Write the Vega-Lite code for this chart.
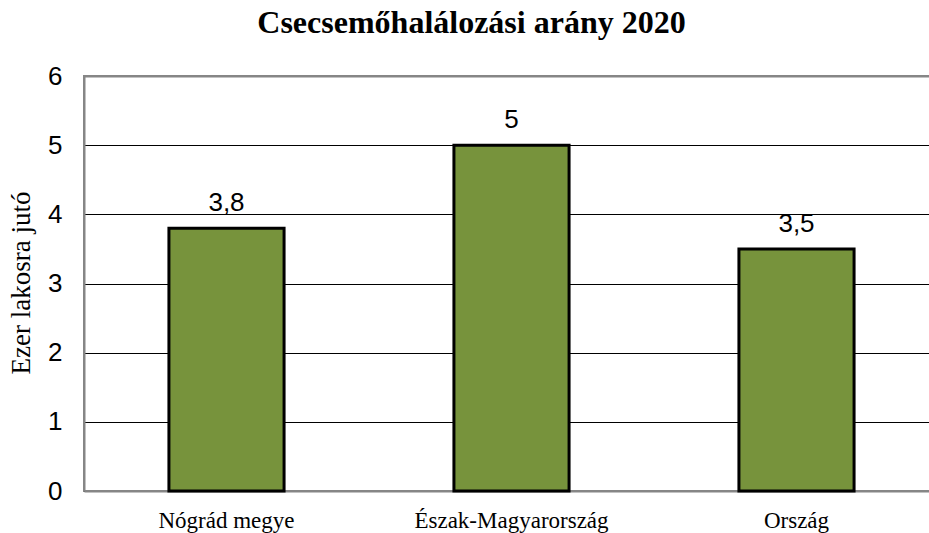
{
  "$schema": "https://vega.github.io/schema/vega-lite/v6.json",
  "autosize": "none",
  "width": 855,
  "height": 415,
  "padding": {"left": 84, "top": 76, "right": 0, "bottom": 42},
  "background": "white",
  "title": {
    "text": "Csecsemőhalálozási arány 2020",
    "font": "Liberation Serif",
    "fontSize": 32,
    "fontWeight": "bold",
    "color": "black",
    "anchor": "middle",
    "dx": -40,
    "baseline": "alphabetic",
    "offset": -2
  },
  "config": {
    "locale": {"number": {"decimal": ",", "thousands": " ", "grouping": [3], "currency": ["", " Ft"]}},
    "view": {"stroke": "#868686", "strokeWidth": 2}
  },
  "data": {
    "values": [
      {"terulet": "Nógrád megye", "ertek": 3.8},
      {"terulet": "Észak-Magyarország", "ertek": 5},
      {"terulet": "Ország", "ertek": 3.5}
    ]
  },
  "encoding": {
    "x": {
      "field": "terulet",
      "type": "nominal",
      "sort": null,
      "scale": {"paddingInner": 0.596, "paddingOuter": 0.298},
      "axis": {
        "title": null,
        "labelAngle": 0,
        "labelFont": "Liberation Serif",
        "labelFontSize": 23,
        "labelColor": "black",
        "labelBaseline": "alphabetic",
        "labelPadding": 36,
        "labelLimit": 0,
        "ticks": false,
        "domainColor": "#868686",
        "domainWidth": 2
      }
    },
    "y": {
      "field": "ertek",
      "type": "quantitative",
      "scale": {"domain": [0, 6], "nice": false},
      "axis": {
        "title": "Ezer lakosra jutó",
        "titleFont": "Liberation Serif",
        "titleFontSize": 27,
        "titleFontWeight": "normal",
        "titleColor": "black",
        "titleBaseline": "middle",
        "titleX": -63,
        "titleY": 206.5,
        "values": [0, 1, 2, 3, 4, 5, 6],
        "labelFont": "Liberation Sans",
        "labelFontSize": 26,
        "labelColor": "black",
        "labelPadding": 22,
        "ticks": false,
        "domainColor": "#868686",
        "domainWidth": 2,
        "grid": true,
        "gridColor": {"condition": {"test": "datum.value == 6", "value": "#868686"}, "value": "black"},
        "gridWidth": {"condition": {"test": "datum.value == 6", "value": 2}, "value": 1},
        "gridOpacity": 1
      }
    }
  },
  "layer": [
    {
      "mark": {"type": "bar", "color": "#77933C", "stroke": "black", "strokeWidth": 3}
    },
    {
      "mark": {"type": "text", "font": "Liberation Sans", "fontSize": 26, "color": "black", "baseline": "middle", "dy": -25},
      "encoding": {"text": {"field": "ertek", "type": "quantitative", "format": "~g"}}
    }
  ]
}
